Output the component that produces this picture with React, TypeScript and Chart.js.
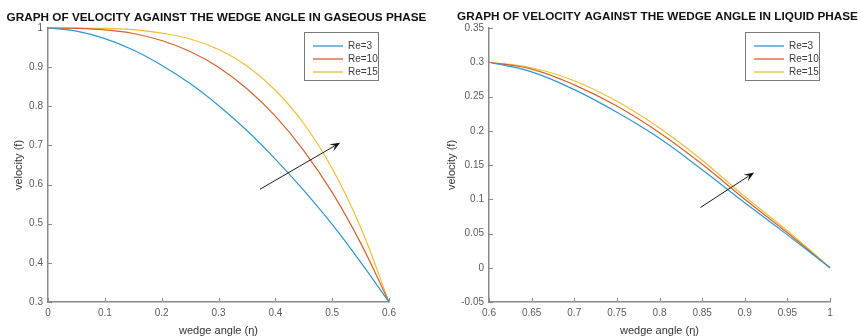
import React, { useEffect, useRef } from 'react';
import { Chart, registerables } from 'chart.js';

Chart.register(...registerables);

const FONT = '"Liberation Sans", Arial, Helvetica, sans-serif';

const SERIES_LABELS = ['Re=3', 'Re=10', 'Re=15'];
const SERIES_COLORS = ['#2f96cb', '#d3622f', '#edbf36'];
const X_TITLE = 'wedge angle (η)';
const Y_TITLE = 'velocity (f)';

// ---- Gaseous phase ----
const GAS_TITLE = 'GRAPH OF VELOCITY AGAINST THE WEDGE ANGLE IN GASEOUS PHASE';
const GAS_ETA = [0, 0.05, 0.1, 0.15, 0.2, 0.25, 0.3, 0.35, 0.4, 0.45, 0.5, 0.55, 0.6];
const GAS_RE3 = [1, 0.992, 0.973, 0.944, 0.905, 0.858, 0.802, 0.738, 0.665, 0.585, 0.498, 0.402, 0.3];
const GAS_RE10 = [1, 0.999, 0.995, 0.986, 0.968, 0.94, 0.9, 0.845, 0.775, 0.687, 0.58, 0.451, 0.3];
const GAS_RE15 = [1, 1, 0.999, 0.996, 0.987, 0.972, 0.945, 0.903, 0.841, 0.756, 0.641, 0.491, 0.3];
const GAS_X_TICKS = [0, 0.1, 0.2, 0.3, 0.4, 0.5, 0.6];
const GAS_X_LABELS = ['0', '0.1', '0.2', '0.3', '0.4', '0.5', '0.6'];
const GAS_Y_TICKS = [0.3, 0.4, 0.5, 0.6, 0.7, 0.8, 0.9, 1];
const GAS_Y_LABELS = ['0.3', '0.4', '0.5', '0.6', '0.7', '0.8', '0.9', '1'];
const GAS_ARROW_TAIL = [0.373, 0.588];
const GAS_ARROW_HEAD = [0.514, 0.707];

// ---- Liquid phase ----
const LIQ_TITLE = 'GRAPH OF VELOCITY AGAINST THE WEDGE ANGLE IN LIQUID PHASE';
const LIQ_ETA = [0.6, 0.65, 0.7, 0.75, 0.8, 0.85, 0.9, 0.95, 1];
const LIQ_RE3 = [0.3, 0.286, 0.26, 0.227, 0.189, 0.143, 0.095, 0.048, 0];
const LIQ_RE10 = [0.3, 0.29, 0.267, 0.236, 0.197, 0.151, 0.1, 0.051, 0];
const LIQ_RE15 = [0.3, 0.292, 0.273, 0.243, 0.204, 0.157, 0.104, 0.054, 0];
const LIQ_X_TICKS = [0.6, 0.65, 0.7, 0.75, 0.8, 0.85, 0.9, 0.95, 1];
const LIQ_X_LABELS = ['0.6', '0.65', '0.7', '0.75', '0.8', '0.85', '0.9', '0.95', '1'];
const LIQ_Y_TICKS = [-0.05, 0, 0.05, 0.1, 0.15, 0.2, 0.25, 0.3, 0.35];
const LIQ_Y_LABELS = ['-0.05', '0', '0.05', '0.1', '0.15', '0.2', '0.25', '0.3', '0.35'];
const LIQ_ARROW_TAIL = [0.848, 0.088];
const LIQ_ARROW_HEAD = [0.911, 0.139];

const AXIS_COLOR = '#8a8a8a';
const TICK_TEXT = '#5a5a5a';

const inwardTicks = {
  id: 'inwardTicks',
  afterDatasetsDraw(chart: any) {
    const { ctx, chartArea } = chart;
    const xs = chart.scales.x;
    const ys = chart.scales.y;
    ctx.save();
    ctx.strokeStyle = AXIS_COLOR;
    ctx.lineWidth = 1;
    xs.ticks.forEach((t: any) => {
      const px = Math.round(xs.getPixelForValue(t.value)) + 0.5;
      ctx.beginPath();
      ctx.moveTo(px, chartArea.bottom);
      ctx.lineTo(px, chartArea.bottom - 4);
      ctx.stroke();
    });
    ys.ticks.forEach((t: any) => {
      const py = Math.round(ys.getPixelForValue(t.value)) + 0.5;
      ctx.beginPath();
      ctx.moveTo(chartArea.left, py);
      ctx.lineTo(chartArea.left + 4, py);
      ctx.stroke();
    });
    ctx.restore();
  },
};

const boxLegend = {
  id: 'boxLegend',
  afterDraw(chart: any) {
    const { ctx, chartArea } = chart;
    const w = 74;
    const h = 48;
    const x0 = Math.round(chartArea.right - 11 - w);
    const y0 = Math.round(chartArea.top + 4);
    ctx.save();
    ctx.fillStyle = '#ffffff';
    ctx.fillRect(x0, y0, w, h);
    ctx.strokeStyle = '#7a7a7a';
    ctx.lineWidth = 1;
    ctx.strokeRect(x0 + 0.5, y0 + 0.5, w, h);
    chart.data.datasets.forEach((ds: any, i: number) => {
      const y = y0 + 14 + i * 13;
      ctx.strokeStyle = ds.borderColor;
      ctx.lineWidth = 1.3;
      ctx.beginPath();
      ctx.moveTo(x0 + 9, y);
      ctx.lineTo(x0 + 39, y);
      ctx.stroke();
      ctx.fillStyle = '#3a3a3a';
      ctx.font = `10px ${FONT}`;
      ctx.textBaseline = 'middle';
      ctx.textAlign = 'left';
      ctx.fillText(ds.label, x0 + 44, y);
    });
    ctx.restore();
  },
};

function makeTitle(text: string, centerY: number) {
  return {
    id: 'panelTitle',
    afterDraw(chart: any) {
      const { ctx, chartArea } = chart;
      ctx.save();
      ctx.fillStyle = '#111111';
      ctx.font = `bold 11.75px ${FONT}`;
      ctx.textAlign = 'center';
      ctx.textBaseline = 'middle';
      ctx.fillText(text, (chartArea.left + chartArea.right) / 2 - 2, centerY);
      ctx.restore();
    },
  };
}

function makeArrow(tail: number[], head: number[]) {
  return {
    id: 'arrowNote',
    afterDatasetsDraw(chart: any) {
      const { ctx } = chart;
      const xs = chart.scales.x;
      const ys = chart.scales.y;
      const x1 = xs.getPixelForValue(tail[0]);
      const y1 = ys.getPixelForValue(tail[1]);
      const x2 = xs.getPixelForValue(head[0]);
      const y2 = ys.getPixelForValue(head[1]);
      const a = Math.atan2(y2 - y1, x2 - x1);
      const len = 10;
      const hw = 4;
      ctx.save();
      ctx.strokeStyle = '#1a1a1a';
      ctx.fillStyle = '#111111';
      ctx.lineWidth = 1;
      ctx.beginPath();
      ctx.moveTo(x1, y1);
      ctx.lineTo(x2 - Math.cos(a) * len * 0.7, y2 - Math.sin(a) * len * 0.7);
      ctx.stroke();
      const bx = x2 - Math.cos(a) * len;
      const by = y2 - Math.sin(a) * len;
      ctx.beginPath();
      ctx.moveTo(x2, y2);
      ctx.lineTo(bx + Math.sin(a) * hw, by - Math.cos(a) * hw);
      ctx.lineTo(x2 - Math.cos(a) * len * 0.6, y2 - Math.sin(a) * len * 0.6);
      ctx.lineTo(bx - Math.sin(a) * hw, by + Math.cos(a) * hw);
      ctx.closePath();
      ctx.fill();
      ctx.restore();
    },
  };
}

type PanelProps = {
  left: number;
  width: number;
  title: string;
  titleY: number;
  eta: number[];
  series: number[][];
  xTicks: number[];
  xLabels: string[];
  yTicks: number[];
  yLabels: string[];
  yAxisWidth: number;
  yTitlePad: number;
  padRight: number;
  tail: number[];
  head: number[];
};

function Panel(p: PanelProps) {
  const ref = useRef<HTMLCanvasElement>(null);
  useEffect(() => {
    const datasets = p.series.map((vals, i) => ({
      label: SERIES_LABELS[i],
      data: p.eta.map((x, j) => ({ x, y: vals[j] })),
      borderColor: SERIES_COLORS[i],
      backgroundColor: SERIES_COLORS[i],
      borderWidth: 1.2,
      pointRadius: 0,
      tension: 0.4,
      fill: false,
      clip: 3,
    }));
    const chart = new Chart(ref.current as HTMLCanvasElement, {
      type: 'line',
      data: { datasets },
      options: {
        animation: false,
        responsive: false,
        devicePixelRatio: 1,
        layout: { padding: { left: 0, right: p.padRight, top: 28, bottom: 0 } },
        plugins: {
          legend: { display: false },
          tooltip: { enabled: false },
          title: { display: false },
        },
        scales: {
          x: {
            type: 'linear',
            min: p.xTicks[0],
            max: p.xTicks[p.xTicks.length - 1],
            afterBuildTicks: (s: any) => {
              s.ticks = p.xTicks.map((v) => ({ value: v }));
            },
            afterFit: (s: any) => {
              s.height = 34;
            },
            ticks: {
              autoSkip: false,
              maxRotation: 0,
              padding: 5,
              color: TICK_TEXT,
              font: { family: FONT, size: 10 },
              callback: (_v: any, i: number) => p.xLabels[i],
            },
            grid: { display: true, drawOnChartArea: false, drawTicks: false },
            border: { display: true, color: AXIS_COLOR, width: 1.5 },
            title: {
              display: true,
              text: X_TITLE,
              color: '#333333',
              font: { family: FONT, size: 11, lineHeight: 1 },
              padding: { top: 0, bottom: 0 },
            },
          },
          y: {
            type: 'linear',
            min: p.yTicks[0],
            max: p.yTicks[p.yTicks.length - 1],
            afterBuildTicks: (s: any) => {
              s.ticks = p.yTicks.map((v) => ({ value: v }));
            },
            afterFit: (s: any) => {
              s.width = p.yAxisWidth;
            },
            ticks: {
              autoSkip: false,
              padding: 5,
              color: TICK_TEXT,
              font: { family: FONT, size: 10 },
              callback: (_v: any, i: number) => p.yLabels[i],
            },
            grid: { display: true, drawOnChartArea: false, drawTicks: false },
            border: { display: true, color: AXIS_COLOR, width: 1.5 },
            title: {
              display: true,
              text: Y_TITLE,
              color: '#333333',
              font: { family: FONT, size: 11, lineHeight: 1 },
              padding: { top: p.yTitlePad, bottom: 0 },
            },
          },
        },
      },
      plugins: [inwardTicks, makeArrow(p.tail, p.head), boxLegend, makeTitle(p.title, p.titleY)],
    } as any);
    return () => chart.destroy();
  }, []);
  return (
    <canvas
      ref={ref}
      width={p.width}
      height={336}
      style={{ position: 'absolute', left: p.left, top: 0, width: p.width, height: 336 }}
    />
  );
}

export default function App() {
  return (
    <div style={{ position: 'fixed', left: 0, top: 0, width: 861, height: 336, background: '#ffffff' }}>
      <Panel
        left={0}
        width={430}
        title={GAS_TITLE}
        titleY={18}
        eta={GAS_ETA}
        series={[GAS_RE3, GAS_RE10, GAS_RE15]}
        xTicks={GAS_X_TICKS}
        xLabels={GAS_X_LABELS}
        yTicks={GAS_Y_TICKS}
        yLabels={GAS_Y_LABELS}
        yAxisWidth={48}
        yTitlePad={13}
        padRight={41}
        tail={GAS_ARROW_TAIL}
        head={GAS_ARROW_HEAD}
      />
      <Panel
        left={430}
        width={431}
        title={LIQ_TITLE}
        titleY={17}
        eta={LIQ_ETA}
        series={[LIQ_RE3, LIQ_RE10, LIQ_RE15]}
        xTicks={LIQ_X_TICKS}
        xLabels={LIQ_X_LABELS}
        yTicks={LIQ_Y_TICKS}
        yLabels={LIQ_Y_LABELS}
        yAxisWidth={59}
        yTitlePad={16.5}
        padRight={31}
        tail={LIQ_ARROW_TAIL}
        head={LIQ_ARROW_HEAD}
      />
    </div>
  );
}
